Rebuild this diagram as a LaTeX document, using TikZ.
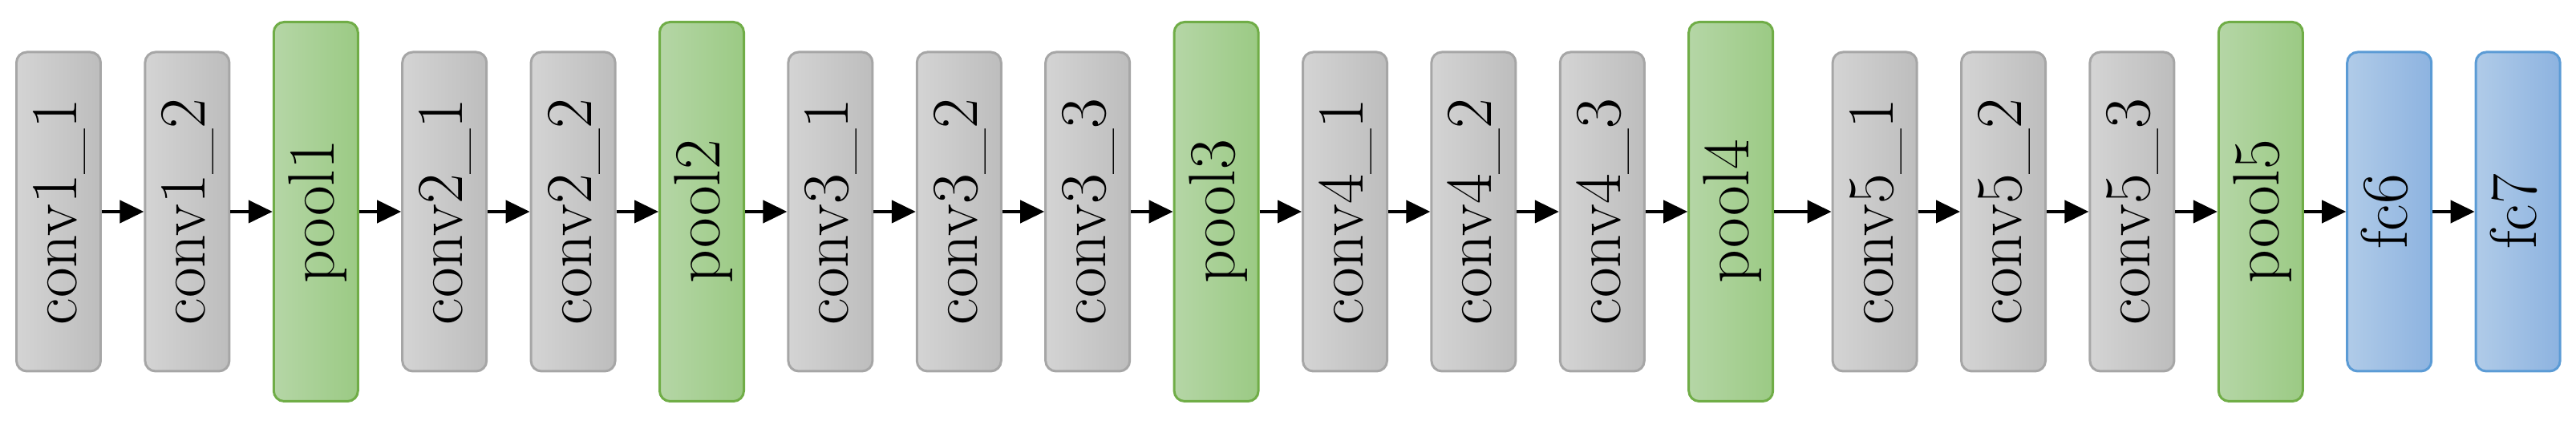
\documentclass[tikz,border=0pt]{standalone}
\usepackage{graphicx}
\usepackage{xcolor}
\usetikzlibrary{math}
\usetikzlibrary{arrows.meta}

\definecolor{convl}{HTML}{D4D4D4}
\definecolor{convr}{HTML}{BDBDBD}
\definecolor{convline}{HTML}{A6A6A6}
\definecolor{pooll}{HTML}{B5D6A6}
\definecolor{poolr}{HTML}{9BCA84}
\definecolor{poolline}{HTML}{70AD47}
\definecolor{fcl}{HTML}{B0CBE8}
\definecolor{fcr}{HTML}{8DB3E0}
\definecolor{fcline}{HTML}{5B9BD5}

\newcommand{\vlabel}[1]{\rotatebox{90}{\rule[-0.25em]{0pt}{1.05em}#1}}

\begin{document}
\begin{tikzpicture}
\tikzset{
  base/.style={draw, rounded corners=1.3mm, line width=0.85pt, inner sep=0pt,
    minimum width=10.5mm, font=\fontsize{23.3}{28}\selectfont},
  conv/.style={base, minimum height=39.8mm, draw=convline, left color=convl, right color=convr},
  pool/.style={base, minimum height=47.3mm, draw=poolline, left color=pooll, right color=poolr},
  fc/.style={base, minimum height=39.8mm, draw=fcline, left color=fcl, right color=fcr},
  link/.style={->, >={Triangle[length=3mm, width=2.8mm]}, line width=1.2pt},
}

\useasboundingbox (0, 0) rectangle (32.12, 5.55);

\tikzmath{\d=1.604; \x=0.73; \g=0.19; \y=2.91;}

\node [conv] (c11) at ({\x}, \y) {\vlabel{conv1\_1}};
\node [conv] (c12) at ({\x+\d}, \y) {\vlabel{conv1\_2}};
\node [pool] (p1) at ({\x+2*\d}, \y) {\vlabel{pool1}};
\node [conv] (c21) at ({\x+3*\d}, \y) {\vlabel{conv2\_1}};
\node [conv] (c22) at ({\x+4*\d}, \y) {\vlabel{conv2\_2}};
\node [pool] (p2) at ({\x+5*\d}, \y) {\vlabel{pool2}};
\node [conv] (c31) at ({\x+6*\d}, \y) {\vlabel{conv3\_1}};
\node [conv] (c32) at ({\x+7*\d}, \y) {\vlabel{conv3\_2}};
\node [conv] (c33) at ({\x+8*\d}, \y) {\vlabel{conv3\_3}};
\node [pool] (p3) at ({\x+9*\d}, \y) {\vlabel{pool3}};
\node [conv] (c41) at ({\x+10*\d}, \y) {\vlabel{conv4\_1}};
\node [conv] (c42) at ({\x+11*\d}, \y) {\vlabel{conv4\_2}};
\node [conv] (c43) at ({\x+12*\d}, \y) {\vlabel{conv4\_3}};
\node [pool] (p4) at ({\x+13*\d}, \y) {\vlabel{pool4}};

% a little more room before the last block
\node [conv] (c51) at ({\x+\g+14*\d}, \y) {\vlabel{conv5\_1}};
\node [conv] (c52) at ({\x+\g+15*\d}, \y) {\vlabel{conv5\_2}};
\node [conv] (c53) at ({\x+\g+16*\d}, \y) {\vlabel{conv5\_3}};
\node [pool] (p5) at ({\x+\g+17*\d}, \y) {\vlabel{pool5}};
\node [fc] (fc6) at ({\x+\g+18*\d}, \y) {\vlabel{fc6}};
\node [fc] (fc7) at ({\x+\g+19*\d}, \y) {\vlabel{fc7}};

\draw[link] (c11) -- (c12);
\draw[link] (c12) -- (p1);
\draw[link] (p1) -- (c21);
\draw[link] (c21) -- (c22);
\draw[link] (c22) -- (p2);
\draw[link] (p2) -- (c31);
\draw[link] (c31) -- (c32);
\draw[link] (c32) -- (c33);
\draw[link] (c33) -- (p3);
\draw[link] (p3) -- (c41);
\draw[link] (c41) -- (c42);
\draw[link] (c42) -- (c43);
\draw[link] (c43) -- (p4);
\draw[link] (p4) -- (c51);
\draw[link] (c51) -- (c52);
\draw[link] (c52) -- (c53);
\draw[link] (c53) -- (p5);
\draw[link] (p5) -- (fc6);
\draw[link] (fc6) -- (fc7);
\end{tikzpicture}
\end{document}
